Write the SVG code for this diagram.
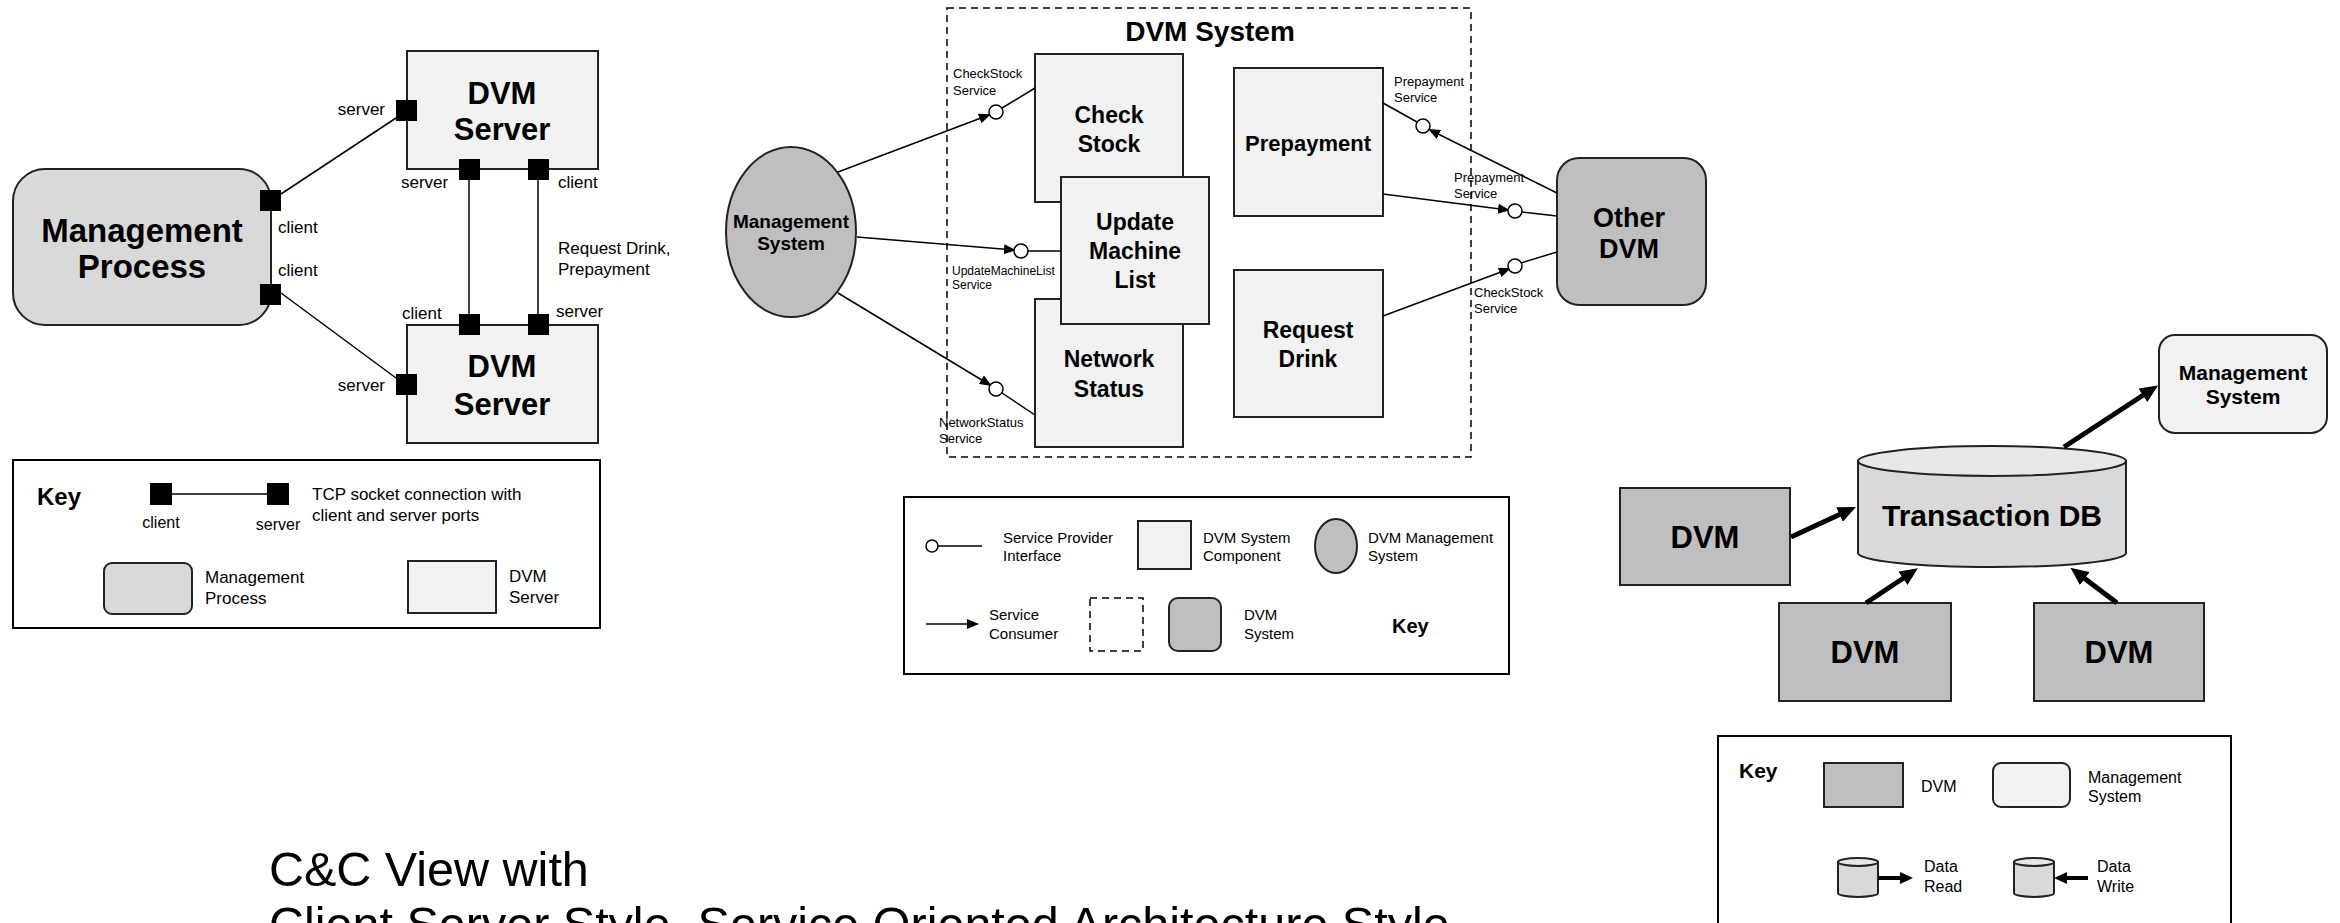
<svg xmlns="http://www.w3.org/2000/svg" width="2340" height="923" viewBox="0 0 2340 923">
<style>
text{font-family:"Liberation Sans",Arial,sans-serif;fill:#000}
.b{font-weight:bold;text-anchor:middle}
.s17{font-size:17px}
.s16{font-size:16px}
.s15{font-size:15px}
.s13{font-size:13px}
.box{stroke:#222;stroke-width:2}
.lt{fill:#f2f2f2}
.md{fill:#d9d9d9}
.dk{fill:#bfbfbf}
.port{fill:#000}
.ln{stroke:#000;stroke-width:1.5;fill:none}
.thick{stroke:#000;stroke-width:5;fill:none}
.ifc{fill:#fff;stroke:#000;stroke-width:1.5}
.dash{fill:none;stroke:#000;stroke-width:1.5;stroke-dasharray:7 5}
.title{font-size:48.5px}
</style>
<defs>
<marker id="arr" markerUnits="userSpaceOnUse" markerWidth="12" markerHeight="10" refX="10" refY="5" orient="auto"><path d="M0,0 L12,5 L0,10 Z" fill="#000"/></marker>
<marker id="big" markerUnits="userSpaceOnUse" markerWidth="18" markerHeight="16" refX="6" refY="8" orient="auto"><path d="M0,0 L18,8 L0,16 Z" fill="#000"/></marker>
<marker id="sm" markerUnits="userSpaceOnUse" markerWidth="13" markerHeight="12" refX="4" refY="6" orient="auto"><path d="M0,0 L13,6 L0,12 Z" fill="#000"/></marker>
</defs>
<rect width="2340" height="923" fill="#fff"/>

<!-- ===== Client-Server panel ===== -->
<g id="cs-connectors">
<line class="ln" x1="281" y1="194" x2="396" y2="118"/>
<line class="ln" x1="281" y1="293" x2="396" y2="378"/>
<line class="ln" x1="469" y1="180" x2="469" y2="314"/>
<line class="ln" x1="538" y1="180" x2="538" y2="314"/>
</g>
<g id="management-process">
<rect class="box md" x="13" y="169" width="258" height="156" rx="32"/>
<text class="b" x="142" y="242" font-size="33">Management</text>
<text class="b" x="142" y="278" font-size="33">Process</text>
</g>
<g id="dvm-server-1">
<rect class="box lt" x="407" y="51" width="191" height="118"/>
<text class="b" x="502" y="104" font-size="31">DVM</text>
<text class="b" x="502" y="140" font-size="31">Server</text>
</g>
<g id="dvm-server-2">
<rect class="box lt" x="407" y="325" width="191" height="118"/>
<text class="b" x="502" y="377" font-size="31">DVM</text>
<text class="b" x="502" y="415" font-size="31">Server</text>
</g>
<g id="ports">
<rect class="port" x="260" y="190" width="21" height="21"/>
<rect class="port" x="260" y="284" width="21" height="21"/>
<rect class="port" x="396" y="100" width="21" height="21"/>
<rect class="port" x="459" y="159" width="21" height="21"/>
<rect class="port" x="528" y="159" width="21" height="21"/>
<rect class="port" x="459" y="314" width="21" height="21"/>
<rect class="port" x="528" y="314" width="21" height="21"/>
<rect class="port" x="396" y="374" width="21" height="21"/>
</g>
<g id="cs-labels" class="s17">
<text x="385" y="115" text-anchor="end">server</text>
<text x="401" y="188">server</text>
<text x="558" y="188">client</text>
<text x="278" y="233">client</text>
<text x="278" y="276">client</text>
<text x="402" y="319">client</text>
<text x="556" y="317">server</text>
<text x="385" y="391" text-anchor="end">server</text>
<text x="558" y="254">Request Drink,</text>
<text x="558" y="275">Prepayment</text>
</g>
<g id="cs-key">
<rect x="13" y="460" width="587" height="168" fill="#fff" stroke="#000" stroke-width="2"/>
<text x="37" y="505" font-size="24" font-weight="bold">Key</text>
<line class="ln" x1="172" y1="494" x2="267" y2="494"/>
<rect class="port" x="150" y="483" width="22" height="22"/>
<rect class="port" x="267" y="483" width="22" height="22"/>
<text class="s16" x="161" y="528" text-anchor="middle">client</text>
<text class="s16" x="278" y="530" text-anchor="middle">server</text>
<text class="s17" x="312" y="500">TCP socket connection with</text>
<text class="s17" x="312" y="521">client and server ports</text>
<rect class="box md" x="104" y="563" width="88" height="51" rx="8"/>
<text class="s17" x="205" y="583">Management</text>
<text class="s17" x="205" y="604">Process</text>
<rect class="box lt" x="408" y="561" width="88" height="52"/>
<text class="s17" x="509" y="582">DVM</text>
<text class="s17" x="509" y="603">Server</text>
</g>

<!-- ===== SOA panel ===== -->
<g id="dvm-system">
<rect class="dash" x="947" y="8" width="524" height="449"/>
<text class="b" x="1210" y="41" font-size="28">DVM System</text>
</g>
<g id="management-system-soa">
<ellipse class="box dk" cx="791" cy="232" rx="65" ry="85"/>
<text class="b" x="791" y="228" font-size="19">Management</text>
<text class="b" x="791" y="250" font-size="19">System</text>
</g>
<g id="check-stock">
<rect class="box lt" x="1035" y="54" width="148" height="148"/>
<text class="b" x="1109" y="123" font-size="23">Check</text>
<text class="b" x="1109" y="152" font-size="23">Stock</text>
</g>
<g id="network-status">
<rect class="box lt" x="1035" y="299" width="148" height="148"/>
<text class="b" x="1109" y="367" font-size="23">Network</text>
<text class="b" x="1109" y="397" font-size="23">Status</text>
</g>
<g id="update-machine-list">
<rect class="box lt" x="1061" y="177" width="148" height="147"/>
<text class="b" x="1135" y="230" font-size="23">Update</text>
<text class="b" x="1135" y="259" font-size="23">Machine</text>
<text class="b" x="1135" y="288" font-size="23">List</text>
</g>
<g id="prepayment">
<rect class="box lt" x="1234" y="68" width="149" height="148"/>
<text class="b" x="1308" y="151" font-size="22">Prepayment</text>
</g>
<g id="request-drink">
<rect class="box lt" x="1234" y="270" width="149" height="147"/>
<text class="b" x="1308" y="338" font-size="23">Request</text>
<text class="b" x="1308" y="367" font-size="23">Drink</text>
</g>
<g id="other-dvm">
<rect class="box dk" x="1557" y="158" width="149" height="147" rx="22"/>
<text class="b" x="1629" y="227" font-size="27">Other</text>
<text class="b" x="1629" y="258" font-size="27">DVM</text>
</g>
<g id="soa-connectors">
<line class="ln" x1="1002" y1="108" x2="1035" y2="88"/>
<line class="ln" x1="838" y1="172" x2="989" y2="115" marker-end="url(#arr)"/>
<line class="ln" x1="1028" y1="251" x2="1061" y2="251"/>
<line class="ln" x1="857" y1="237" x2="1014" y2="250" marker-end="url(#arr)"/>
<line class="ln" x1="1002" y1="393" x2="1035" y2="415"/>
<line class="ln" x1="838" y1="293" x2="990" y2="385" marker-end="url(#arr)"/>
<line class="ln" x1="1383" y1="103" x2="1417" y2="122"/>
<line class="ln" x1="1557" y1="193" x2="1430" y2="130" marker-end="url(#arr)"/>
<line class="ln" x1="1522" y1="212" x2="1557" y2="216"/>
<line class="ln" x1="1383" y1="194" x2="1508" y2="210" marker-end="url(#arr)"/>
<line class="ln" x1="1521" y1="263" x2="1557" y2="252"/>
<line class="ln" x1="1383" y1="316" x2="1509" y2="269" marker-end="url(#arr)"/>
<circle class="ifc" cx="996" cy="112" r="7"/>
<circle class="ifc" cx="1021" cy="251" r="7"/>
<circle class="ifc" cx="996" cy="389" r="7"/>
<circle class="ifc" cx="1423" cy="126" r="7"/>
<circle class="ifc" cx="1515" cy="211" r="7"/>
<circle class="ifc" cx="1515" cy="266" r="7"/>
</g>
<g id="soa-labels" class="s13">
<text x="953" y="78">CheckStock</text>
<text x="953" y="95">Service</text>
<text x="952" y="275" font-size="12" fill="#333">UpdateMachineList</text>
<text x="952" y="289" font-size="12" fill="#333">Service</text>
<text x="939" y="427">NetworkStatus</text>
<text x="939" y="443">Service</text>
<text x="1394" y="86">Prepayment</text>
<text x="1394" y="102">Service</text>
<text x="1454" y="182">Prepayment</text>
<text x="1454" y="198">Service</text>
<text x="1474" y="297">CheckStock</text>
<text x="1474" y="313">Service</text>
</g>
<g id="soa-key">
<rect x="904" y="497" width="605" height="177" fill="#fff" stroke="#000" stroke-width="2"/>
<line class="ln" x1="938" y1="546" x2="982" y2="546"/>
<circle class="ifc" cx="932" cy="546" r="6"/>
<text class="s15" x="1003" y="543">Service Provider</text>
<text class="s15" x="1003" y="561">Interface</text>
<rect class="box lt" x="1138" y="521" width="53" height="48"/>
<text class="s15" x="1203" y="543">DVM System</text>
<text class="s15" x="1203" y="561">Component</text>
<ellipse class="box dk" cx="1336" cy="546" rx="21" ry="27"/>
<text class="s15" x="1368" y="543">DVM Management</text>
<text class="s15" x="1368" y="561">System</text>
<line class="ln" x1="926" y1="624" x2="977" y2="624" marker-end="url(#arr)"/>
<text class="s15" x="989" y="620">Service</text>
<text class="s15" x="989" y="639">Consumer</text>
<rect class="dash" x="1090" y="598" width="53" height="53"/>
<rect class="box dk" x="1169" y="598" width="52" height="53" rx="9"/>
<text class="s15" x="1244" y="620">DVM</text>
<text class="s15" x="1244" y="639">System</text>
<text x="1392" y="633" font-size="20" font-weight="bold">Key</text>
</g>

<!-- ===== Repository panel ===== -->
<g id="dvm-1">
<rect class="box dk" x="1620" y="488" width="170" height="97"/>
<text class="b" x="1705" y="548" font-size="31">DVM</text>
</g>
<g id="dvm-2">
<rect class="box dk" x="1779" y="603" width="172" height="98"/>
<text class="b" x="1865" y="663" font-size="31">DVM</text>
</g>
<g id="transaction-db">
<path class="box" d="M1858,461 L1858,553 A134,14 0 0 0 2126,553 L2126,461 Z" fill="#d9d9d9"/>
<ellipse class="box" cx="1992" cy="461" rx="134" ry="15" fill="#e8e8e8"/>
<text class="b" x="1992" y="526" font-size="30">Transaction DB</text>
</g>
<g id="dvm-3">
<rect class="box dk" x="2034" y="603" width="170" height="98"/>
<text class="b" x="2119" y="663" font-size="31">DVM</text>
</g>
<g id="management-system">
<rect class="box lt" x="2159" y="335" width="168" height="98" rx="16"/>
<text class="b" x="2243" y="380" font-size="21">Management</text>
<text class="b" x="2243" y="404" font-size="21">System</text>
</g>
<g id="repo-connectors">
<line class="thick" x1="1791" y1="537" x2="1845" y2="512" marker-end="url(#big)"/>
<line class="thick" x1="1866" y1="603" x2="1908" y2="575" marker-end="url(#big)"/>
<line class="thick" x1="2117" y1="603" x2="2080" y2="575" marker-end="url(#big)"/>
<line class="thick" x1="2064" y1="447" x2="2148" y2="392" marker-end="url(#big)"/>
</g>
<g id="repo-key">
<rect x="1718" y="736" width="513" height="230" fill="#fff" stroke="#000" stroke-width="2"/>
<text x="1739" y="778" font-size="21" font-weight="bold">Key</text>
<rect class="box dk" x="1824" y="763" width="79" height="44"/>
<text class="s16" x="1921" y="792">DVM</text>
<rect class="box lt" x="1993" y="763" width="77" height="44" rx="8"/>
<text class="s16" x="2088" y="783">Management</text>
<text class="s16" x="2088" y="802">System</text>
<path class="box" d="M1838,862 L1838,893 A20,4 0 0 0 1878,893 L1878,862 Z" fill="#d9d9d9" stroke-width="1.5"/>
<ellipse class="box" cx="1858" cy="862" rx="20" ry="4" fill="#e8e8e8" stroke-width="1.5"/>
<line x1="1878" y1="878" x2="1904" y2="878" stroke="#000" stroke-width="4" marker-end="url(#sm)"/>
<text class="s16" x="1924" y="872">Data</text>
<text class="s16" x="1924" y="892">Read</text>
<path class="box" d="M2014,862 L2014,893 A20,4 0 0 0 2054,893 L2054,862 Z" fill="#d9d9d9" stroke-width="1.5"/>
<ellipse class="box" cx="2034" cy="862" rx="20" ry="4" fill="#e8e8e8" stroke-width="1.5"/>
<line x1="2088" y1="878" x2="2063" y2="878" stroke="#000" stroke-width="4" marker-end="url(#sm)"/>
<text class="s16" x="2097" y="872">Data</text>
<text class="s16" x="2097" y="892">Write</text>
</g>

<g id="title">
<text class="title" x="269" y="886">C&amp;C View with</text>
<text class="title" x="269" y="941">Client Server Style, Service Oriented Architecture Style</text>
</g>
</svg>
